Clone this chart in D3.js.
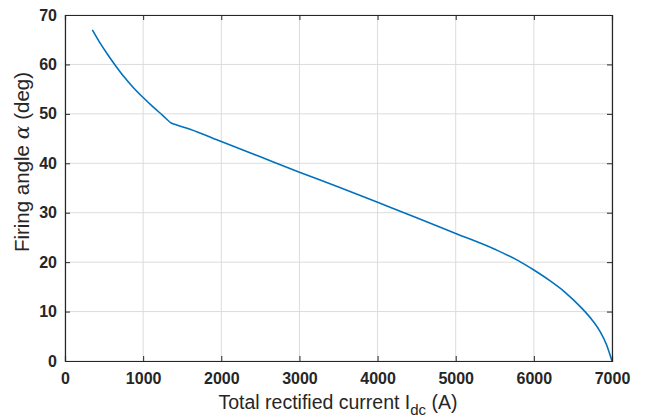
<!DOCTYPE html>
<html>
<head>
<meta charset="utf-8">
<script src="https://cdn.jsdelivr.net/npm/d3@7"></script>
<style>
  body { margin: 0; background: #fff; }
  text { font-family: "Liberation Sans", Arial, sans-serif; fill: #262626; }
</style>
</head>
<body>
<svg id="chart" width="657" height="418"></svg>
<script>
// current (A) vs firing angle (deg)
var current = [350, 450, 550, 640, 750, 870, 1000, 1120, 1250, 1365, 1420, 1600, 2000, 2500, 3000, 3500, 4000, 4500, 5000, 5500, 5800, 6000, 6200, 6400, 6600, 6750, 6850, 6930, 7000];
var angle   = [67, 64.3, 61.9, 59.9, 57.6, 55.4, 53.3, 51.5, 49.7, 48.1, 47.8, 46.9, 44.4, 41.3, 38.2, 35.2, 32.1, 29, 25.8, 22.6, 20.3, 18.4, 16.3, 13.9, 10.9, 8.2, 5.9, 3.3, 0];
var xTicks = [0, 1000, 2000, 3000, 4000, 5000, 6000, 7000];
var yTicks = [0, 10, 20, 30, 40, 50, 60, 70];

var margin = {top: 15, right: 45, bottom: 57, left: 65};
var svg = d3.select("#chart");
var width = 657 - margin.left - margin.right,
    height = 418 - margin.top - margin.bottom;

var x = d3.scaleLinear().domain([0, 7000]).range([0, width]);
var y = d3.scaleLinear().domain([0, 70]).range([height, 0]);

var g = svg.append("g").attr("transform", "translate(" + margin.left + "," + margin.top + ")");

// grid
g.selectAll(".gx").data(xTicks).enter().append("line")
    .attr("x1", d => x(d)).attr("x2", d => x(d))
    .attr("y1", 0).attr("y2", height)
    .attr("stroke", "#dcdcdc").attr("stroke-width", 1);
g.selectAll(".gy").data(yTicks).enter().append("line")
    .attr("x1", 0).attr("x2", width)
    .attr("y1", d => y(d)).attr("y2", d => y(d))
    .attr("stroke", "#dcdcdc").attr("stroke-width", 1);

// curve
var pts = current.map((c, i) => [c, angle[i]]);
g.append("path")
    .datum(pts)
    .attr("fill", "none")
    .attr("stroke", "#0072BD")
    .attr("stroke-width", 1.6)
    .attr("d", d3.line().x(d => x(d[0])).y(d => y(d[1])).curve(d3.curveMonotoneX));

// axes, ticks pointing inward
var fmt = d3.format("d");
var xAxis = g.append("g").attr("transform", "translate(0," + height + ")")
    .call(d3.axisBottom(x).tickValues(xTicks).tickFormat(fmt).tickSize(-5).tickPadding(12));
var xTop = g.append("g")
    .call(d3.axisTop(x).tickValues(xTicks).tickSize(-5).tickFormat(""));
var yAxis = g.append("g")
    .call(d3.axisLeft(y).tickValues(yTicks).tickFormat(fmt).tickSize(-5).tickPadding(8));
var yRight = g.append("g").attr("transform", "translate(" + width + ",0)")
    .call(d3.axisRight(y).tickValues(yTicks).tickSize(-5).tickFormat(""));

[xAxis, xTop, yAxis, yRight].forEach(function(a) {
    a.select(".domain").attr("stroke", "#262626").attr("stroke-width", 1.2);
    a.selectAll(".tick line").attr("stroke", "#262626");
    a.selectAll("text").style("font-size", "16px").style("font-weight", "bold")
        .attr("fill", "#262626");
});

// labels
var xl = svg.append("text")
    .attr("x", 338)
    .attr("y", 409)
    .attr("text-anchor", "middle")
    .style("font-size", "19.5px");
xl.append("tspan").text("Total rectified current I");
xl.append("tspan").attr("dy", 6).style("font-size", "15px").text("dc");
xl.append("tspan").attr("dy", -6).text(" (A)");

var yl = svg.append("text")
    .attr("transform", "translate(29,162) rotate(-90)")
    .attr("text-anchor", "middle")
    .style("font-size", "20.5px");
yl.append("tspan").text("Firing angle ");
yl.append("tspan").style("font-style", "italic").style("font-family", "'DejaVu Serif', serif").text("\u03b1");
yl.append("tspan").text(" (deg)");
</script>
</body>
</html>
